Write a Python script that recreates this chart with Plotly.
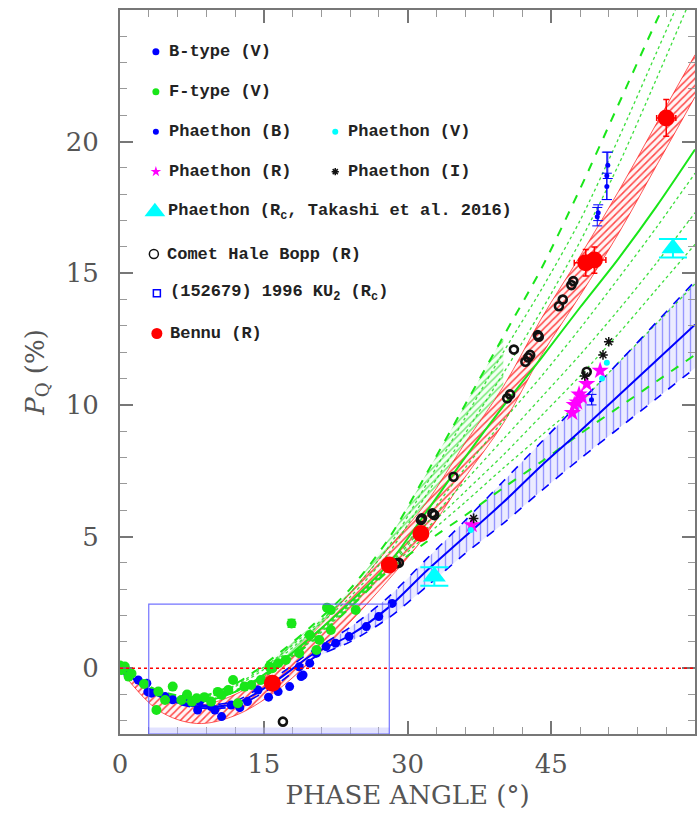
import plotly.graph_objects as go

# ---------------- data ----------------
grid_x = [0, 4, 8, 12, 16, 20, 24, 28, 32, 36, 40, 44, 48, 52, 56, 60]

ftype_upper_dashed = [0, -0.85, -1.1, -0.6, 0.4, 1.6, 3.0, 4.9, 7.4, 10.0, 12.6, 15.2, 18.2, 21.4, 24.6, 27.6]
ftype_dotted_a = [0, -0.9, -1.15, -0.65, 0.3, 1.5, 2.85, 4.6, 7.0, 9.5, 12.0, 14.4, 17.0, 20.1, 23.4, 26.7]
ftype_dotted_b = [0, -0.9, -1.2, -0.7, 0.2, 1.4, 2.7, 4.35, 6.6, 8.9, 11.2, 13.6, 16.2, 19.1, 22.4, 25.8]
ftype_fit = [0, -1.0, -1.3, -0.9, 0.0, 1.2, 2.5, 3.95, 5.95, 8.0, 9.95, 11.8, 13.7, 15.55, 17.55, 19.7]
ftype_dotted_c = [0, -1.0, -1.3, -0.9, 0.0, 1.2, 2.5, 3.9, 5.7, 7.6, 9.4, 11.1, 12.9, 14.8, 16.75, 18.8]
ftype_dotted_d = [0, -1.0, -1.3, -0.9, -0.05, 1.15, 2.45, 3.85, 5.5, 7.1, 8.7, 10.3, 11.9, 13.6, 15.4, 17.3]
ftype_dotted_e = [0, -1.0, -1.3, -0.9, -0.1, 1.1, 2.4, 3.8, 5.3, 6.7, 8.1, 9.6, 11.1, 12.7, 14.4, 16.1]
ftype_dotted_f = [0, -0.95, -1.25, -0.9, -0.1, 1.05, 2.35, 3.75, 5.05, 6.3, 7.6, 8.85, 10.1, 11.6, 13.1, 14.6]
ftype_lower_dashed = [0, -0.9, -1.2, -0.85, -0.1, 1.0, 2.3, 3.7, 4.8, 5.8, 6.85, 7.85, 8.9, 9.9, 10.9, 11.9]

bennu_fit = [0, -1.3, -1.75, -1.4, -0.5, 0.8, 2.3, 3.95, 5.7, 7.9, 10.0, 12.6, 14.9, 17.3, 19.9, 22.5]
bennu_halfwidth = [0.05, 0.3, 0.35, 0.4, 0.45, 0.5, 0.55, 0.6, 0.6, 0.65, 0.7, 0.7, 0.75, 0.8, 0.8, 0.8]

btype_fit = [0, -1.05, -1.45, -1.35, -0.55, 0.5, 1.25, 2.3, 3.7, 5.0, 6.3, 7.7, 9.0, 10.35, 11.7, 13.05]
btype_upper = [0, -1.0, -1.4, -1.25, -0.4, 0.65, 1.55, 2.7, 4.15, 5.6, 7.1, 8.6, 10.1, 11.6, 13.15, 14.7]
btype_lower = [0, -1.1, -1.5, -1.45, -0.7, 0.35, 1.0, 1.9, 3.1, 4.35, 5.5, 6.75, 7.95, 9.1, 10.25, 11.4]

btype_x = [0.3, 0.8, 1.9, 2.8, 2.9, 3.3, 4.7, 5.5, 6.9, 7.5, 8.1, 8.3, 9.5, 9.9, 10.6, 11.6, 12.5, 13.3,
           14.4, 15.5, 15.8, 16.5, 17.7, 18.9, 18.7, 19.1, 19.8, 20.5, 21.5, 22.5, 23.9, 25.7, 27.0, 28.4]
btype_y = [0.0, -0.2, -0.45, -0.57, -0.9, -0.95, -1.08, -1.2, -1.08, -1.3, -1.59, -1.27, -1.46, -1.59,
           -1.84, -1.4, -1.5, -1.27, -0.83, -1.1, -0.45, -0.89, -0.7, -0.32, 0.05, -0.26, 0.19, 0.57,
           0.82, 0.95, 1.2, 1.58, 1.96, 2.46]

ftype_x = [0.0, 0.2, 0.5, 0.9, 1.2, 2.5, 3.8, 4.0, 4.7, 5.5, 6.4, 7.0, 7.5, 8.0, 8.8, 9.5, 10.2, 10.6,
           11.3, 11.8, 12.3, 13.0, 13.7, 14.7, 15.6, 15.9, 16.5, 17.3, 17.9, 18.7, 19.8, 20.5, 20.8,
           21.6, 22.0, 22.0, 24.6]
ftype_y = [0.1, -0.07, 0.06, -0.32, -0.2, -0.6, -1.59, -0.89, -1.21, -0.7, -1.21, -1.0, -1.27, -1.14,
           -1.1, -1.27, -0.9, -1.02, -0.83, -0.45, -1.33, -0.7, -0.64, -0.45, 0.06, 0.0, 0.19, 0.31,
           1.7, 0.57, 1.26, 0.69, 1.07, 2.3, 1.45, 2.21, 2.21]
ftype_err = [0] * 28 + [0.15] + [0] * 8

bennu_x = [15.9, 28.1, 31.4, 48.6, 49.5, 57.0]
bennu_y = [-0.57, 3.92, 5.12, 15.4, 15.5, 20.9]
bennu_ex = [0.6, 0.6, 0.6, 1.2, 1.2, 1.0]
bennu_ey = [0.25, 0.25, 0.25, 0.5, 0.5, 0.7]

phaethon_b_x = [49.8, 49.9, 50.8, 50.8, 50.9, 49.2]
phaethon_b_y = [17.15, 17.3, 18.3, 18.7, 19.1, 10.2]
phaethon_b_e = [0.35, 0.3, 0.5, 0.9, 0.5, 0.2]

phaethon_v_x = [36.6, 50.3, 50.8]
phaethon_v_y = [5.25, 11.0, 11.6]

phaethon_r_x = [36.7, 47.2, 47.4, 47.7, 47.9, 48.2, 48.7, 50.1]
phaethon_r_y = [5.44, 9.7, 10.0, 10.1, 10.4, 10.3, 10.8, 11.3]

phaethon_i_x = [36.9, 48.5, 50.4, 51.0]
phaethon_i_y = [5.69, 11.1, 11.9, 12.4]

takashi_x = [32.8, 57.7]
takashi_y = [3.48, 15.95]

halebopp_x = [17.0, 28.8, 29.1, 31.4, 31.5, 32.6, 32.8, 34.8, 40.4, 40.7, 41.1, 42.3, 42.6, 42.8,
              43.6, 43.7, 45.8, 46.2, 47.1, 47.3, 48.7]
halebopp_y = [-2.03, 3.98, 4.0, 5.63, 5.69, 5.88, 5.82, 7.27, 10.25, 10.4, 12.1, 11.64, 11.8, 11.9,
              12.65, 12.59, 13.75, 14.0, 14.55, 14.7, 11.26]

x_ticks = [0, 15, 30, 45]
y_ticks = [0, 5, 10, 15, 20]

# ---------------- colours / styles ----------------
BLUE = "#0000ff"
GREEN = "#19e619"
RED = "#ff0000"
CYAN = "#00ffff"
MAGENTA = "#ff00ff"
AXIS = "#777777"
FONT_SERIF = "DejaVu Serif"
FONT_MONO = "Liberation Mono"

fig = go.Figure()


def band(x, lo, hi, fg, bg, shape, size, solidity, edge):
    fig.add_trace(go.Scatter(x=x, y=lo, mode="lines", line=dict(color=edge, width=0.8, shape="spline"),
                             hoverinfo="skip"))
    fig.add_trace(go.Scatter(x=x, y=hi, mode="lines", line=dict(color=edge, width=0.8, shape="spline"),
                             fill="tonexty", fillcolor=bg,
                             fillpattern=dict(shape=shape, fgcolor=fg, bgcolor=bg, size=size,
                                              solidity=solidity, fillmode="replace"),
                             hoverinfo="skip"))


bennu_hi = [c + w for c, w in zip(bennu_fit, bennu_halfwidth)]
bennu_lo = [c - w for c, w in zip(bennu_fit, bennu_halfwidth)]

# green hatched region (x 16..40)
band(grid_x[4:11], bennu_hi[4:11], ftype_upper_dashed[4:11], "rgba(40,220,40,0.6)",
     "rgba(220,255,220,0.3)", "/", 5, 0.3, "rgba(0,0,0,0)")
# blue hatched band (x >= 20)
band(grid_x[5:], btype_lower[5:], btype_upper[5:], "rgba(80,80,255,0.55)",
     "rgba(210,210,255,0.45)", "|", 7, 0.2, "rgba(0,0,255,0.0)")
# red hatched band
band(grid_x, bennu_lo, bennu_hi, "rgba(255,40,40,0.85)", "rgba(255,225,225,0.35)", "/", 5, 0.3,
     "rgba(255,0,0,0.8)")


def curve(y, color, width, dash):
    fig.add_trace(go.Scatter(x=grid_x, y=y, mode="lines",
                             line=dict(color=color, width=width, dash=dash, shape="spline",
                                       smoothing=0.8),
                             hoverinfo="skip"))


for yv in [ftype_dotted_a, ftype_dotted_b, ftype_dotted_c, ftype_dotted_d, ftype_dotted_e,
           ftype_dotted_f]:
    curve(yv, "rgba(40,220,40,0.9)", 1.3, "dot")
curve(ftype_upper_dashed, GREEN, 2, "dash")
curve(ftype_lower_dashed, GREEN, 2, "dash")
curve(ftype_fit, GREEN, 2, "solid")
curve(btype_upper, BLUE, 1.6, "dash")
curve(btype_lower, BLUE, 1.6, "dash")
curve(btype_fit, BLUE, 2, "solid")

# data points
fig.add_trace(go.Scatter(x=btype_x, y=btype_y, mode="markers",
                         marker=dict(color=BLUE, size=9, symbol="circle")))
fig.add_trace(go.Scatter(x=ftype_x, y=ftype_y, mode="markers",
                         marker=dict(color=GREEN, size=10, symbol="circle"),
                         error_y=dict(type="data", array=ftype_err, color=GREEN, thickness=1.5, width=4)))
fig.add_trace(go.Scatter(x=halebopp_x, y=halebopp_y, mode="markers",
                         marker=dict(color="#111111", size=8, symbol="circle-open",
                                     line=dict(width=2.6))))
fig.add_trace(go.Scatter(x=phaethon_r_x, y=phaethon_r_y, mode="markers",
                         marker=dict(color=MAGENTA, size=13, symbol="star")))
fig.add_trace(go.Scatter(x=phaethon_v_x, y=phaethon_v_y, mode="markers",
                         marker=dict(color=CYAN, size=6, symbol="circle")))
fig.add_trace(go.Scatter(x=phaethon_i_x, y=phaethon_i_y, mode="markers",
                         marker=dict(color="#111111", size=8, symbol="asterisk-open",
                                     line=dict(width=1.5))))
fig.add_trace(go.Scatter(x=phaethon_b_x, y=phaethon_b_y, mode="markers",
                         marker=dict(color=BLUE, size=5, symbol="circle"),
                         error_y=dict(type="data", array=phaethon_b_e, color=BLUE, thickness=1, width=5)))
fig.add_trace(go.Scatter(x=takashi_x, y=takashi_y, mode="markers",
                         marker=dict(color=CYAN, size=20, symbol="triangle-up"),
                         error_y=dict(type="constant", value=0.35, color=CYAN, thickness=2, width=14)))
fig.add_trace(go.Scatter(x=bennu_x, y=bennu_y, mode="markers",
                         marker=dict(color=RED, size=17, symbol="circle"),
                         error_x=dict(type="data", array=bennu_ex, color=RED, thickness=1.5, width=3),
                         error_y=dict(type="data", array=bennu_ey, color=RED, thickness=1.5, width=3)))

# ---------------- frame geometry (pixels) ----------------
W, H = 699, 813
L, R, T, B = 120, 697, 10, 734


def px_x(p):
    return (p - L) / (R - L)


def px_y(p):
    return (B - p) / (B - T)


# legend drawn manually (overlay axes in paper units)
legend_rows = [
    (156, 51.7, "circle", BLUE, 7, 0, "B-type (V)"),
    (156, 91.7, "circle", GREEN, 7, 0, "F-type (V)"),
    (156, 131.7, "circle", BLUE, 6, 0, "Phaethon (B)"),
    (336, 131.7, "circle", CYAN, 6, 0, "Phaethon (V)"),
    (156, 171.7, "star", MAGENTA, 8, 0, "Phaethon (R)"),
    (336, 171.7, "asterisk-open", "#111111", 6, 1.5, "Phaethon (I)"),
    (155, 211.7, "triangle-up", CYAN, 18, 0, "Phaethon (R<sub>c</sub>, Takashi et al. 2016)"),
    (154, 254.0, "circle-open", "#111111", 9, 1.5, "Comet Hale Bopp (R)"),
    (157, 293.3, "square-open", BLUE, 7, 1.5, "(152679) 1996 KU<sub>2</sub> (R<sub>c</sub>)"),
    (157, 333.5, "circle", RED, 11, 0, "Bennu (R)"),
]
annotations = []
for sx, sy, sym, col, size, lw, label in legend_rows:
    mk = dict(symbol=sym, color=col, size=size, line=dict(width=lw))
    fig.add_trace(go.Scatter(x=[px_x(sx)], y=[px_y(sy)], mode="markers", marker=mk,
                             xaxis="x2", yaxis="y2", hoverinfo="skip"))
    annotations.append(dict(x=px_x(sx + 11), y=px_y(sy), xref="paper", yref="paper", text=label,
                            showarrow=False, xanchor="left", yanchor="middle",
                            font=dict(family=FONT_MONO, size=17, color="#222222", weight="bold")))

shapes = [
    dict(type="line", xref="x", yref="y", x0=0, x1=60, y0=0, y1=0,
         line=dict(color=RED, width=1.6, dash="dot")),
    dict(type="rect", xref="x", yref="y", x0=3, x1=28.1, y0=-2.5, y1=-2.25,
         line=dict(width=0), fillcolor="rgba(190,190,255,0.45)"),
    dict(type="rect", xref="x", yref="y", x0=3, x1=28.1, y0=-2.5, y1=2.43,
         line=dict(color="rgba(90,90,255,0.85)", width=1.2)),
]

fig.update_layout(
    width=W, height=H,
    margin=dict(l=L, r=W - R, t=T, b=H - B),
    paper_bgcolor="white", plot_bgcolor="white",
    showlegend=False,
    annotations=annotations,
    shapes=shapes,
    xaxis=dict(range=[0, 60], tickvals=x_ticks, ticks="inside", ticklen=13, tickwidth=1.5,
               tickcolor=AXIS, showline=True, linecolor=AXIS, linewidth=2, mirror="allticks",
               showgrid=False, zeroline=False,
               minor=dict(dtick=3, tick0=0, ticks="inside", ticklen=7, tickwidth=1.2, tickcolor="#999999"),
               tickfont=dict(family=FONT_SERIF, size=26, color="#555555"),
               ticklabelstandoff=6,
               title=dict(text="PHASE ANGLE (°)", font=dict(family=FONT_SERIF, size=26, color="#555555"),
                          standoff=8)),
    yaxis=dict(range=[-2.5, 25], tickvals=y_ticks, ticks="inside", ticklen=13, tickwidth=1.5,
               tickcolor=AXIS, showline=True, linecolor=AXIS, linewidth=2, mirror="allticks",
               showgrid=False, zeroline=False,
               minor=dict(dtick=1, tick0=0, ticks="inside", ticklen=7, tickwidth=1.2, tickcolor="#999999"),
               tickfont=dict(family=FONT_SERIF, size=26, color="#555555"),
               ticklabelstandoff=14,
               title=dict(text="<i>P</i><sub>Q</sub> (%)", font=dict(family=FONT_SERIF, size=26, color="#555555"),
                          standoff=14)),
    xaxis2=dict(domain=[0, 1], range=[0, 1], overlaying="x", anchor="y2", visible=False),
    yaxis2=dict(domain=[0, 1], range=[0, 1], overlaying="y", anchor="x2", visible=False),
)

fig.write_html("out.html")
